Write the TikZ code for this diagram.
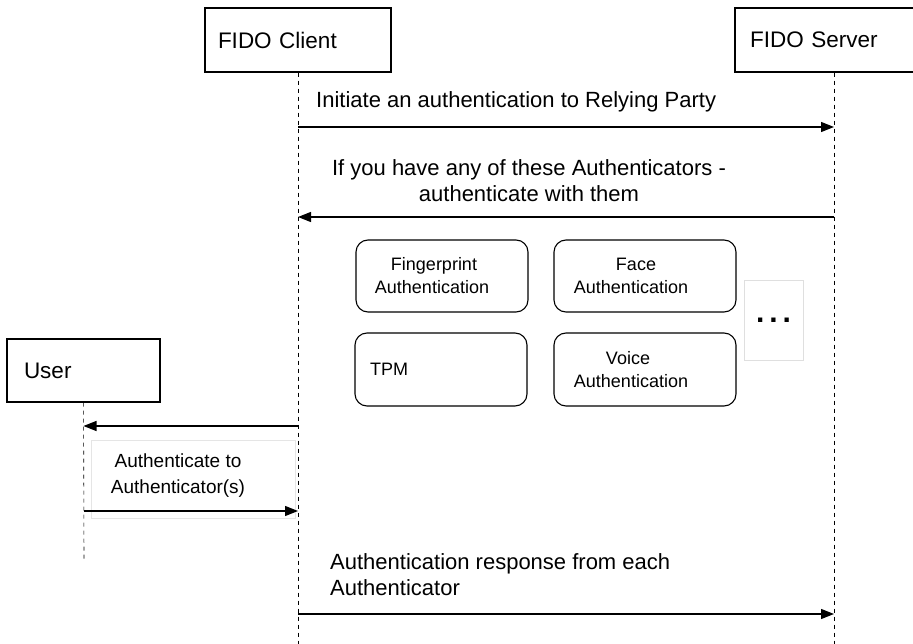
\documentclass[tikz,border=0pt]{standalone}
\usepackage{fontspec}
\setmainfont{Liberation Sans}
\usetikzlibrary{arrows.meta, positioning}

\begin{document}
\begin{tikzpicture}[x=1pt, y=-1pt,
    actor/.style={draw, line width=1.1pt, minimum height=64pt, align=left, font=\fontsize{22.5}{26}\selectfont},
    authbox/.style={draw, rounded corners=12pt, line width=1.1pt, minimum height=72pt, align=center, font=\fontsize{18}{23}\selectfont},
    msg/.style={-{Triangle[length=13pt, width=10pt]}, line width=1.2pt},
    life/.style={dash pattern=on 4pt off 4pt, line width=0.6pt},
    lbl/.style={font=\fontsize{22}{26}\selectfont, inner sep=0pt}]
    \useasboundingbox (0,0) rectangle (913,644);

    % participants
    \node[actor, text width=160pt, inner xsep=13pt] (client) at (298,40) {FIDO Client};
    \node[actor, text width=168pt, inner xsep=15pt] (server) at (834,40) {FIDO Server};
    \node[actor, text width=119pt, inner xsep=17pt, minimum height=63pt] (user) at (83.5,370.5) {User};

    % lifelines
    \coordinate (clientend) at (298,644);
    \coordinate (serverend) at (834,644);
    \coordinate (userend) at (84,562);
    \draw[life] (client) -- (clientend);
    \draw[life] (server) -- (serverend);
    \draw[life] (user) -- (userend);

    % authenticators
    \node[authbox, minimum width=172pt] (finger) at (442,276) {Fingerprint\hspace*{16pt}\\Authentication\hspace*{20pt}};
    \node[authbox, minimum width=182pt] (face) at (645,276) {Face\hspace*{18pt}\\Authentication\hspace*{28pt}};
    \node[authbox, minimum width=172pt, minimum height=73pt, text width=142pt, inner xsep=15pt, align=left] (tpm) at (441,369.5) {TPM};
    \node[authbox, minimum width=182pt, minimum height=73pt] (voice) at (645,369.5) {Voice\hspace*{34pt}\\Authentication\hspace*{28pt}};
    \node[draw=gray!25, minimum width=59pt, minimum height=80pt, font=\fontsize{30}{30}\selectfont\bfseries] (more) at (773.5,320) {\raisebox{-5pt}{.\hspace{5pt}.\hspace{5pt}.}};

    % messages
    \coordinate (y1) at (0,127);
    \coordinate (y2) at (0,217);
    \coordinate (y3) at (0,426);
    \coordinate (y4) at (0,511);
    \coordinate (y5) at (0,614);

    \node[lbl, anchor=west] (initlbl) at (316,102) {Initiate an authentication to Relying Party};
    \draw[msg] (client |- y1) -- (server |- y1);

    \node[lbl, align=center] (anylbl) at (529,181) {If you have any of these Authenticators -\\authenticate with them};
    \draw[msg] (server |- y2) -- (client |- y2);

    \draw[msg] (client |- y3) -- (user |- y3);

    \node[draw=gray!20, minimum width=204pt, minimum height=78pt] (userbg) at (193,479) {};
    \node[lbl, align=center, font=\fontsize{19}{26}\selectfont] (authlbl) at (178,476) {Authenticate to\\Authenticator(s)};
    \draw[msg] (user |- y4) -- (client |- y4);

    \node[lbl, anchor=west, align=left] (resplbl) at (330,575) {Authentication response from each\\Authenticator};
    \draw[msg] (client |- y5) -- (server |- y5);
\end{tikzpicture}
\end{document}
